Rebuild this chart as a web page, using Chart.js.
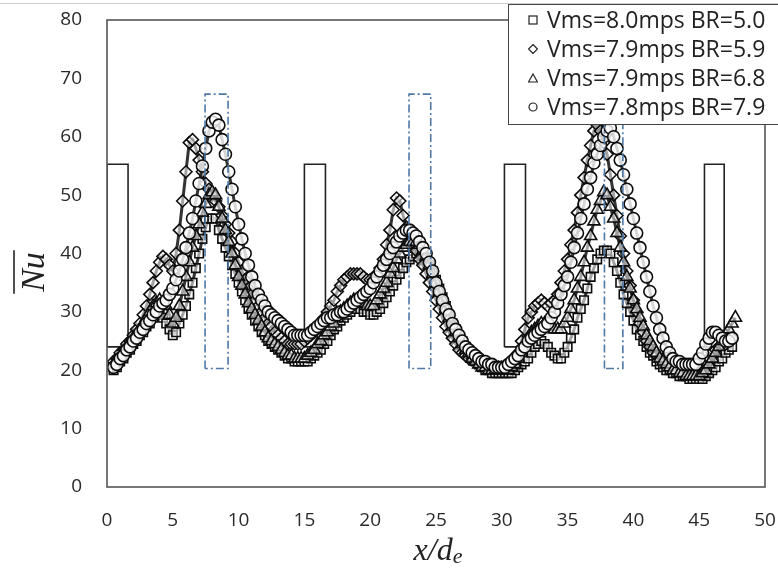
<!DOCTYPE html>
<html>
<head>
<meta charset="utf-8">
<script src="https://cdn.jsdelivr.net/npm/chart.js@4.4.1/dist/chart.umd.min.js"></script>
<style>
  html, body { margin: 0; padding: 0; background: #fff; }
  #wrap { position: relative; width: 778px; height: 575px; overflow: hidden; }
  #topline { position: absolute; left: 0; top: 3px; width: 778px; height: 1px; background: #cfcfcf; }
  #legend {
    position: absolute; left: 508px; top: 4px; width: 275px; height: 119px;
    border: 1.5px solid #444; background: #fff;
    font-family: "Open Sans", sans-serif; font-size: 23px; color: #222;
  }
  #legend .row { height: 29px; line-height: 29px; padding-left: 19px; white-space: nowrap; }
  #legend svg { width: 10px; height: 10px; margin-right: 9px; vertical-align: middle; position: relative; top: -2px; }
</style>
</head>
<body>
<div id="wrap">
  <canvas id="c" width="778" height="575"></canvas>
  <div id="topline"></div>
  <div id="legend"></div>
</div>
<script>
// x positions shared by all four series (x/de)
const xs = [
  0.5, 0.75,
  1, 1.25, 1.5, 1.75, 2, 2.25, 2.5, 2.75, 3, 3.25, 3.5, 3.75, 4, 4.25, 4.5, 4.75,
  5, 5.25, 5.5, 5.75, 6, 6.25, 6.5, 6.75, 7, 7.25, 7.5, 7.75, 8, 8.25, 8.5, 8.75,
  9, 9.25, 9.5, 9.75, 10, 10.25, 10.5, 10.75, 11, 11.25, 11.5, 11.75, 12, 12.25, 12.5, 12.75,
  13, 13.25, 13.5, 13.75, 14, 14.25, 14.5, 14.75, 15, 15.25, 15.5, 15.75, 16, 16.25, 16.5, 16.75,
  17, 17.25, 17.5, 17.75, 18, 18.25, 18.5, 18.75, 19, 19.25, 19.5, 19.75, 20, 20.25, 20.5, 20.75,
  21, 21.25, 21.5, 21.75, 22, 22.25, 22.5, 22.75, 23, 23.25, 23.5, 23.75, 24, 24.25, 24.5, 24.75,
  25, 25.25, 25.5, 25.75, 26, 26.25, 26.5, 26.75, 27, 27.25, 27.5, 27.75, 28, 28.25, 28.5, 28.75,
  29, 29.25, 29.5, 29.75, 30, 30.25, 30.5, 30.75, 31, 31.25, 31.5, 31.75, 32, 32.25, 32.5, 32.75,
  33, 33.25, 33.5, 33.75, 34, 34.25, 34.5, 34.75, 35, 35.25, 35.5, 35.75, 36, 36.25, 36.5, 36.75,
  37, 37.25, 37.5, 37.75, 38, 38.25, 38.5, 38.75, 39, 39.25, 39.5, 39.75, 40, 40.25, 40.5, 40.75,
  41, 41.25, 41.5, 41.75, 42, 42.25, 42.5, 42.75, 43, 43.25, 43.5, 43.75, 44, 44.25, 44.5, 44.75,
  45, 45.25, 45.5, 45.75, 46, 46.25, 46.5, 46.75, 47, 47.25, 47.5, 47.75
];

// Nu values, Vms=8.0mps BR=5.0 (squares)
const nuBR50 = [
  20, 20.5,
  21.5, 22, 23, 23.5, 24.5, 25, 26, 26.5, 27.5, 28, 29, 29.5, 30, 29, 28, 27,
  26, 26.5, 28, 29.5, 31, 33, 35, 37.5, 40, 42.5, 44.5, 46, 46, 46, 44, 42.5,
  41, 39.5, 38, 36.5, 35, 33.5, 32, 30.5, 29.5, 28.5, 27.5, 26.5, 26, 25, 24.5, 24,
  23.5, 23, 22.5, 22, 22, 21.5, 21.5, 21.5, 21.5, 21.5, 22, 22.5, 23, 23.5, 24.5, 25,
  26, 27, 27.5, 28.5, 29, 29.5, 30, 30.5, 30.5, 30.5, 30, 30, 29.5, 29.5, 30, 30.5,
  31.5, 32.5, 33.5, 34.5, 35.5, 36.5, 37.5, 38.5, 39, 39.5, 40, 40, 39.5, 39, 38, 37,
  35.5, 34, 32.5, 31, 29.5, 28, 27, 26, 25, 24, 23, 22, 21.5, 21, 20.5, 20,
  20, 19.5, 19.5, 19.5, 19.5, 19.5, 19.5, 19.5, 20, 20.5, 21, 21.5, 22, 23, 24, 24.5,
  25, 24.5, 24, 23, 22.5, 22, 22, 23, 24, 25.5, 27, 29, 30.5, 32, 34, 36,
  37.5, 39, 40, 40.5, 40.5, 40, 38.5, 37, 35, 33, 31.5, 30, 28.5, 27, 26, 25,
  24, 23, 22.5, 21.5, 21, 20.5, 20, 20, 19.5, 19.5, 19, 19, 19, 18.5, 18.5, 18.5,
  18.5, 18.5, 19, 19.5, 20, 20.5, 21.5, 22, 23, 23.5, 24, null
];

// Nu values, Vms=7.9mps BR=5.9 (diamonds)
const nuBR59 = [
  21.5, 22,
  23, 23.5, 24.5, 25, 26, 27, 28, 29.5, 31, 33, 35, 37, 38.5, 39.5, 39, 38,
  37, 40, 44, 49, 54, 59, 59.5, 58, 56, 54, 52, 51, 50, 49, 48, 46.5,
  45, 43.5, 42, 40, 38.5, 37, 35.5, 34, 33, 32, 31, 30, 29, 28, 27.5, 26.5,
  26, 25.5, 25, 24.5, 24.5, 24.5, 24.5, 24.5, 25, 25.5, 26, 26.5, 27.5, 28, 29, 30,
  31, 32, 33.5, 34.5, 35.5, 36, 36.5, 36.5, 36.5, 36.5, 36, 35.5, 35.5, 35.5, 36.5, 37.5,
  39, 41.5, 44, 47.5, 49.5, 49, 46.5, 44.5, 43, 41.5, 40.5, 39, 38, 36.5, 35, 33.5,
  32, 30.5, 29, 27.5, 26.5, 25.5, 24.5, 23.5, 23, 22.5, 22, 22, 21.5, 21, 21, 21,
  20.5, 20.5, 20.5, 20.5, 20.5, 20.5, 20.5, 20.5, 21, 23, 25, 27, 29, 30, 31, 31.5,
  32, 31.5, 31, 31.5, 32, 33, 35, 37, 39, 41.5, 44, 47, 50, 53, 56, 58.5,
  61, 62, 61, 59, 57, 53.5, 50, 46.5, 43, 40, 37, 34.5, 32, 30, 28, 26.5,
  25, 24, 23, 22.5, 22, 22, 21.5, 21, 21, 21, 20.5, 20.5, 20, 20, 20, 20,
  20.5, 21, 21.5, 22, 23, 23.5, 24, 24.5, 24.5, 25, 25.5, null
];

// Nu values, Vms=7.9mps BR=6.8 (triangles)
const nuBR68 = [
  21, 21.5,
  22.5, 23, 24, 24.5, 25.5, 26, 27, 28, 29, 30, 31, 31.5, 32, 31.5, 31, 29.5,
  28, 29, 31, 33.5, 36, 38.5, 41, 43, 45, 47, 48.5, 50, 50.5, 50, 48, 46,
  44, 42, 40, 38, 36, 34.5, 33, 31.5, 30.5, 29.5, 28.5, 27.5, 26.5, 25.5, 25, 24.5,
  24, 23.5, 23, 22.5, 22.5, 22, 22, 22, 22, 22.5, 23, 23.5, 24.5, 25, 26, 26.5,
  27.5, 28, 29, 30, 30.5, 31, 31.5, 32, 32, 32, 31.5, 31, 31, 31, 32, 33,
  34, 35, 36.5, 37.5, 39, 40, 41, 41.5, 42, 42, 42, 41.5, 40.5, 39.5, 38, 36.5,
  35, 33.5, 32, 30.5, 29, 27.5, 26.5, 25.5, 24.5, 23.5, 23, 22, 21.5, 21, 20.5, 20.5,
  20, 20, 20, 20, 20, 20, 20, 20.5, 21, 22, 23, 24, 25.5, 26.5, 27, 27.5,
  28, 28, 28, 27.5, 27, 27, 27, 28, 29, 30.5, 32, 34, 36, 38.5, 41, 43,
  45.5, 47.5, 49, 50.5, 50, 48, 46, 43.5, 41, 38.5, 36, 34, 32, 30.5, 29, 27.5,
  26, 25, 24, 23, 22, 21.5, 21, 20.5, 20, 20, 19.5, 19.5, 19, 19, 19, 19,
  19, 19.5, 20, 21, 22, 23, 24, 25, 26, 27, 28, 29
];

// Nu values, Vms=7.8mps BR=7.9 (circles)
const nuBR79 = [
  20.5, 21,
  22, 22.5, 23.5, 24, 25, 25.5, 26.5, 27, 28, 28.5, 29.5, 30, 31, 31.5, 32, 33,
  34, 35.5, 37, 39, 41, 43.5, 46, 49, 52, 55, 58, 61, 62.5, 63, 62, 59.5,
  57, 54, 51, 48, 45, 42.5, 40, 38, 36, 34.5, 33, 32, 31, 30, 29.5, 29,
  28.5, 28, 27.5, 27, 26.5, 26, 26, 26, 26, 26, 26.5, 27, 27.5, 28, 28.5, 29,
  29, 29.5, 29.5, 30, 30, 30.5, 31, 31.5, 32, 32.5, 33, 33.5, 34, 35, 36, 37,
  38, 39, 40, 41, 42, 43, 43.5, 44, 44, 43.5, 43, 42, 41, 40, 38.5, 37,
  35, 33.5, 32, 30.5, 29.5, 28, 27, 26, 25, 24, 23.5, 23, 22.5, 22, 21.5, 21.5,
  21, 21, 20.5, 20.5, 20.5, 20.5, 21, 21.5, 22, 22.5, 23.5, 24, 25, 25.5, 26, 26.5,
  27, 27.5, 28, 29, 30, 31.5, 33, 34.5, 36, 38.5, 41, 43.5, 46, 48.5, 51, 53,
  55.5, 57, 58.5, 60, 61, 61.5, 60, 58, 56, 53.5, 51, 48.5, 46, 43.5, 41, 38.5,
  36, 33.5, 31, 29, 27, 25.5, 24, 23, 22, 21.5, 21.5, 21, 21, 21, 21, 21,
  22, 23, 24.5, 25.5, 26.5, 26.5, 26, 25.5, 25, 25, 25.5, null
];

const seriesNames = ["Vms=8.0mps BR=5.0", "Vms=7.9mps BR=5.9", "Vms=7.9mps BR=6.8", "Vms=7.8mps BR=7.9"];
const seriesMarkers = ["rect", "rectRot", "triangle", "circle"];

// rib outlines (solid) and dashed boxes
const ribLeft = [0, 15, 30.2, 45.4];
const ribRight = [1.6, 16.6, 31.8, 46.9];
const ribBottom = 24;
const ribTop = 55.3;
const boxLeft = [7.45, 22.95, 37.8];
const boxRight = [9.2, 24.6, 39.2];
const boxBottom = 20.3;
const boxTop = 67.3;

const xTicks = [0, 5, 10, 15, 20, 25, 30, 35, 40, 45, 50];
const yTicks = [0, 10, 20, 30, 40, 50, 60, 70, 80];

function rectPath(l, r, b, t) {
  return [{ x: l, y: b }, { x: l, y: t }, { x: r, y: t }, { x: r, y: b }, { x: l, y: b }];
}

const seriesData = [nuBR50, nuBR59, nuBR68, nuBR79];
const datasets = [];

seriesData.forEach((vals, i) => {
  datasets.push({
    label: seriesNames[i],
    data: xs.map((x, j) => ({ x: x, y: vals[j] })),
    showLine: true,
    borderColor: "rgba(30,30,30,0.9)",
    borderWidth: 3,
    pointStyle: seriesMarkers[i],
    pointRadius: seriesMarkers[i] === "triangle" ? 7 : 6,
    pointBackgroundColor: i === 3 ? "rgba(255,255,255,0.8)" : "rgba(255,255,255,0.55)",
    pointBorderColor: "#0d0d0d",
    pointBorderWidth: 1.6,
    order: 4 - i,
  });
});

ribLeft.forEach((l, i) => {
  datasets.push({
    label: "rib",
    data: rectPath(l, ribRight[i], ribBottom, ribTop),
    showLine: true,
    borderColor: "#222",
    borderWidth: 1.6,
    pointRadius: 0,
    order: 10,
  });
});

boxLeft.forEach((l, i) => {
  datasets.push({
    label: "box",
    data: rectPath(l, boxRight[i], boxBottom, boxTop),
    showLine: true,
    borderColor: "#4f78a8",
    borderWidth: 1.6,
    borderDash: [8, 3, 2, 3],
    pointRadius: 0,
    order: 0,
  });
});

const framePlugin = {
  id: "frame",
  afterDraw(chart) {
    const { ctx, chartArea: a } = chart;
    ctx.save();
    ctx.strokeStyle = "#555";
    ctx.lineWidth = 1.6;
    ctx.strokeRect(a.left, a.top, a.right - a.left, a.bottom - a.top);

    // y title: Nu with overbar
    ctx.fillStyle = "#222";
    ctx.strokeStyle = "#222";
    ctx.translate(34, 272);
    ctx.rotate(-Math.PI / 2);
    ctx.font = 'italic 34px "Liberation Serif", serif';
    ctx.textAlign = "center";
    ctx.textBaseline = "alphabetic";
    const w = ctx.measureText("Nu").width;
    ctx.fillText("Nu", 0, 10);
    ctx.lineWidth = 1.6;
    ctx.beginPath();
    ctx.moveTo(-w / 2 - 2, -20);
    ctx.lineTo(w / 2 + 2, -20);
    ctx.stroke();
    ctx.restore();

    // x title: x/d with subscript e
    ctx.save();
    ctx.fillStyle = "#222";
    ctx.textBaseline = "alphabetic";
    ctx.font = 'italic 32px "Liberation Serif", serif';
    const main = "x/d";
    const mw = ctx.measureText(main).width;
    ctx.font = 'italic 22px "Liberation Serif", serif';
    const sw = ctx.measureText("e").width;
    const start = 438 - (mw + sw) / 2;
    ctx.font = 'italic 32px "Liberation Serif", serif';
    ctx.fillText(main, start, 560);
    ctx.font = 'italic 22px "Liberation Serif", serif';
    ctx.fillText("e", start + mw, 563);
    ctx.restore();
  },
};

new Chart(document.getElementById("c"), {
  type: "scatter",
  data: { datasets: datasets },
  options: {
    responsive: false,
    animation: false,
    layout: { padding: { top: 20, right: 13, left: 0, bottom: 0 } },
    plugins: { legend: { display: false }, tooltip: { enabled: false } },
    scales: {
      x: {
        type: "linear",
        min: 0,
        max: 50,
        afterBuildTicks: (s) => { s.ticks = xTicks.map((v) => ({ value: v })); },
        afterFit: (s) => { s.height = 88; s.paddingLeft = 0; s.paddingRight = 0; },
        grid: { display: false, drawTicks: false },
        border: { display: false },
        ticks: { color: "#2a2a2a", padding: 22, font: { family: "'Open Sans'", size: 19 } },
      },
      y: {
        min: 0,
        max: 80,
        afterBuildTicks: (s) => { s.ticks = yTicks.map((v) => ({ value: v })); },
        afterFit: (s) => { s.width = 107; s.paddingTop = 0; s.paddingBottom = 0; },
        grid: { display: false, drawTicks: false },
        border: { display: false },
        ticks: { color: "#2a2a2a", padding: 25, font: { family: "'Open Sans'", size: 19 } },
      },
    },
  },
  plugins: [framePlugin],
});

// legend overlay
const icons = {
  rect: '<rect x="1" y="1" width="8" height="8" fill="#fff" stroke="#222" stroke-width="1.2"/>',
  rectRot: '<polygon points="5,0.5 9.5,5 5,9.5 0.5,5" fill="#fff" stroke="#222" stroke-width="1.2"/>',
  triangle: '<polygon points="5,1 9.5,9 0.5,9" fill="#fff" stroke="#222" stroke-width="1.2"/>',
  circle: '<circle cx="5" cy="5" r="4" fill="#fff" stroke="#222" stroke-width="1.2"/>',
};
document.getElementById("legend").innerHTML = seriesNames
  .map((n, i) => '<div class="row"><svg viewBox="0 0 10 10">' + icons[seriesMarkers[i]] + "</svg>" + n + "</div>")
  .join("");
</script>
</body>
</html>
